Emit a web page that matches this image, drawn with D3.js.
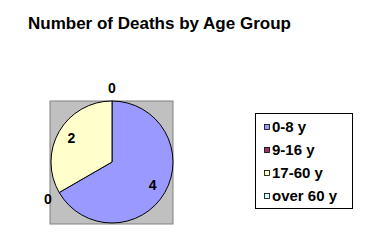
<!DOCTYPE html>
<html>
<head>
<meta charset="utf-8">
<script src="https://cdn.jsdelivr.net/npm/d3@7"></script>
<style>
  body { margin: 0; background: #fff; }
  text { font-family: Arial, "Liberation Sans", sans-serif; font-weight: bold; fill: #000; }
</style>
</head>
<body>
<script>
const categories = ['0-8 y', '9-16 y', '17-60 y', 'over 60 y'];
const deaths = [4, 0, 2, 0];
const colors = ['#9999ff', '#993366', '#ffffcc', '#ccffff'];

const width = 367, height = 246;
const svg = d3.select('body').append('svg')
  .attr('width', width)
  .attr('height', height);

svg.append('text')
  .attr('x', 28)
  .attr('y', 29)
  .style('font-size', '17px')
  .text('Number of Deaths by Age Group');

// plot area (grey box)
svg.append('rect')
  .attr('x', 50).attr('y', 101)
  .attr('width', 123).attr('height', 123)
  .attr('fill', '#c0c0c0')
  .attr('stroke', '#808080')
  .attr('stroke-width', 1);

const cx = 112, cy = 162, r = 61;
const data = categories.map((c, i) => ({ name: c, value: deaths[i], color: colors[i] }));

const pie = d3.pie().sort(null).value(d => d.value);
const arcs = pie(data);
const arc = d3.arc().innerRadius(0).outerRadius(r);

const g = svg.append('g').attr('transform', `translate(${cx},${cy})`);

g.selectAll('path')
  .data(arcs.filter(d => d.value > 0))
  .join('path')
  .attr('d', arc)
  .attr('fill', d => d.data.color)
  .attr('stroke', '#000')
  .attr('stroke-width', 1);

// labels: inside for non-zero, outside for zero slices
const inner = d3.arc().innerRadius(r * 0.77).outerRadius(r * 0.77);
const outer = d3.arc().innerRadius(r + 13).outerRadius(r + 13);
g.selectAll('text.lbl')
  .data(arcs)
  .join('text')
  .attr('class', 'lbl')
  .attr('transform', d => `translate(${(d.value > 0 ? inner : outer).centroid(d)})`)
  .attr('text-anchor', 'middle')
  .attr('dy', '0.35em')
  .style('font-size', '14px')
  .text(d => d.value);

// legend
const legend = svg.append('g');
legend.append('rect')
  .attr('x', 255.5).attr('y', 113.5)
  .attr('width', 97).attr('height', 95)
  .attr('fill', '#fff')
  .attr('stroke', '#000');

const rowY = d3.scalePoint().domain(categories).range([127, 196]);
const item = legend.selectAll('g.item')
  .data(data)
  .join('g')
  .attr('class', 'item')
  .attr('transform', d => `translate(0,${rowY(d.name)})`);

item.append('rect')
  .attr('x', 264.5).attr('y', -2.5)
  .attr('width', 5).attr('height', 5)
  .attr('fill', d => d.color)
  .attr('stroke', '#000')
  .attr('stroke-width', 0.8);

item.append('text')
  .attr('x', 272)
  .attr('dy', '0.36em')
  .style('font-size', '15px')
  .text(d => d.name);
</script>
</body>
</html>
